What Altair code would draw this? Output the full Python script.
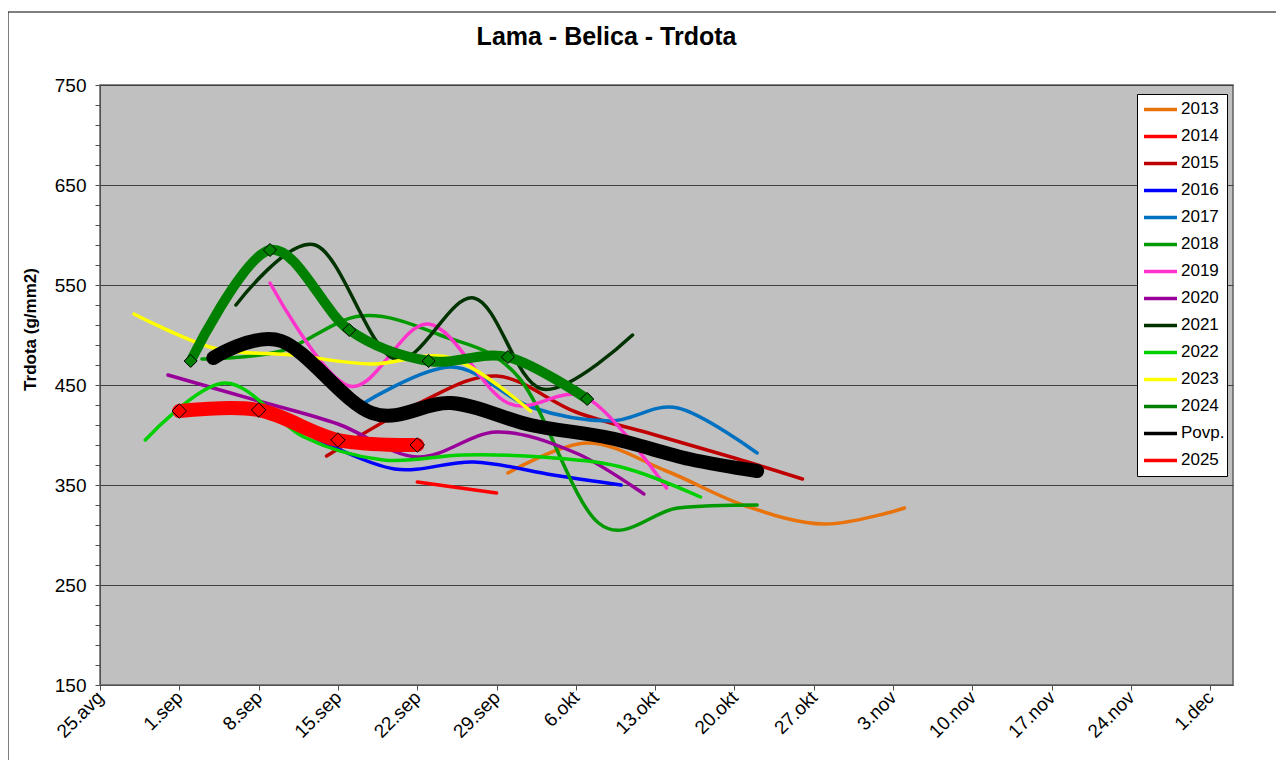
import altair as alt
import pandas as pd
from datetime import date

# ---------------- data ----------------
series_names = ["2013", "2014", "2015", "2016", "2017", "2018", "2019", "2020",
                "2021", "2022", "2023", "2024", "Povp.", "2025"]
series_colors = ["#E8730C", "#FF0000", "#C00000", "#0000FF", "#0070C0", "#009A00",
                 "#FF33CC", "#990099", "#003300", "#00D000", "#FFFF00", "#008000",
                 "#000000", "#FF0000"]
legend_widths = [3.5, 3.5, 3.5, 3.5, 3.5, 3.5, 3.5, 3.5, 3.5, 3.5, 3.5, 5.5, 6.5, 5.5]

d2013 = ["09-30", "10-07", "10-14", "10-21", "10-28", "11-04"]
v2013 = [362, 392, 364, 329, 311, 327]
d2014 = ["09-22", "09-29"]
v2014 = [353, 342]
d2015 = ["09-14", "09-22", "09-29", "10-06", "10-13", "10-20", "10-26"]
v2015 = [379, 431, 459, 423, 400, 377, 356]
d2016 = ["09-13", "09-20", "09-27", "10-04", "10-10"]
v2016 = [397, 366, 373, 360, 350]
d2017 = ["09-17", "09-25", "10-02", "10-09", "10-15", "10-22"]
v2017 = [430, 468, 428, 414, 427, 382]
d2018 = ["09-03", "09-10", "09-17", "09-24", "10-01", "10-08", "10-15", "10-22"]
v2018 = [476, 484, 519, 500, 457, 312, 327, 330]
d2019 = ["09-09", "09-16", "09-23", "09-30", "10-07", "10-14"]
v2019 = [552, 449, 511, 432, 437, 347]
d2020 = ["08-31", "09-08", "09-15", "09-22", "09-29", "10-06", "10-12"]
v2020 = [460, 434, 411, 378, 403, 382, 341]
d2021 = ["09-06", "09-13", "09-20", "09-27", "10-03", "10-11"]
v2021 = [530, 590, 476, 537, 446, 500]
d2022 = ["08-29", "09-05", "09-12", "09-19", "09-26", "10-03", "10-10", "10-17"]
v2022 = [395, 452, 398, 375, 380, 378, 368, 338]
d2023 = ["08-28", "09-04", "09-11", "09-18", "09-25", "10-02"]
v2023 = [521, 487, 480, 471, 477, 424]
d2024 = ["09-02", "09-09", "09-16", "09-23", "09-30", "10-07"]
v2024 = [474, 585, 505, 474, 478, 436]
d_avg = ["09-04", "09-10", "09-18", "09-25", "10-02", "10-09", "10-16", "10-22"]
v_avg = [477, 494, 422, 432, 410, 397, 376, 364]
d2025 = ["09-01", "09-08", "09-15", "09-22"]
v2025 = [424, 425, 395, 390]

x_tick_days = [0, 7, 14, 21, 28, 35, 42, 49, 56, 63, 70, 77, 84, 91, 98]
x_tick_labels = ["25.avg", "1.sep", "8.sep", "15.sep", "22.sep", "29.sep", "6.okt",
                 "13.okt", "20.okt", "27.okt", "3.nov", "10.nov", "17.nov",
                 "24.nov", "1.dec"]
y_major = [150, 250, 350, 450, 550, 650, 750]
y_minor = list(range(150, 751, 20))

# ---------------- build table ----------------
all_series = [
    ("2013", d2013, v2013), ("2014", d2014, v2014), ("2015", d2015, v2015),
    ("2016", d2016, v2016), ("2017", d2017, v2017), ("2018", d2018, v2018),
    ("2019", d2019, v2019), ("2020", d2020, v2020), ("2021", d2021, v2021),
    ("2022", d2022, v2022), ("2023", d2023, v2023), ("2024", d2024, v2024),
    ("Povp.", d_avg, v_avg), ("2025", d2025, v2025),
]
start = date(2025, 8, 25)
rows = []
for name, ds, vs in all_series:
    for i, (d, v) in enumerate(zip(ds, vs)):
        m, dd = d.split("-")
        rows.append({"series": name, "day": (date(2025, int(m), int(dd)) - start).days,
                     "value": v, "idx": i})
df = pd.DataFrame(rows)

FONT = "Liberation Sans"
label_arr = "[" + ",".join("'%s'" % s for s in x_tick_labels) + "]"
major_arr = "[" + ",".join(str(v) for v in y_major) + "]"

x_enc = alt.X("day:Q", scale=alt.Scale(domain=[0, 100], nice=False, zero=False),
              axis=alt.Axis(values=x_tick_days, labelExpr=label_arr + "[round(datum.value/7)]",
                            labelAngle=-45, labelAlign="right", labelBaseline="middle",
                            labelFontSize=19, labelFont=FONT, labelColor="#000000",
                            labelPadding=4, tickSize=5, tickColor="#505050",
                            domainColor="#505050", grid=False, title=None))
y_enc = alt.Y("value:Q", scale=alt.Scale(domain=[150, 750], nice=False, zero=False),
              axis=alt.Axis(values=y_minor,
                            labelExpr="indexof(" + major_arr + ", datum.value) >= 0 ? datum.label : ''",
                            labelFontSize=19, labelFont=FONT, labelColor="#000000",
                            labelPadding=9, tickSize=5, tickColor="#505050",
                            domainColor="#505050", grid=True, gridColor="#404040",
                            gridOpacity={"condition": {"test": "datum.value % 100 === 50", "value": 1}, "value": 0},
                            title="Trdota (g/mm2)", titleFont=FONT, titleFontSize=17,
                            titleFontWeight="bold", titleColor="#000000",
                            titleX=-70, titleY=244, titleAngle=-90, titleAlign="center",
                            titleBaseline="middle"))
legend_def = alt.Legend(title=None, orient="none", legendX=1037, legendY=9,
                        symbolType="stroke", symbolSize=1089,
                        labelFontSize=17, labelFont=FONT, labelColor="#000000",
                        labelOffset=2, clipHeight=26.8, rowPadding=0,
                        padding=2, symbolOffset=3,
                        fillColor="#FFFFFF", strokeColor="#000000")
color_enc = alt.Color("series:N", sort=series_names,
                      scale=alt.Scale(domain=series_names, range=series_colors),
                      legend=legend_def)
width_enc = alt.StrokeWidth("series:N", sort=series_names,
                            scale=alt.Scale(domain=series_names, range=legend_widths),
                            legend=legend_def)

base = alt.Chart(df)
thin_years = series_names[:11]

thin = base.transform_filter(alt.FieldOneOfPredicate(field="series", oneOf=thin_years)).mark_line(
    interpolate="cardinal", strokeCap="round").encode(
    x=x_enc, y=y_enc, color=color_enc, strokeWidth=width_enc, order="idx:Q")
l2024 = base.transform_filter(alt.FieldEqualPredicate(field="series", equal="2024")).mark_line(
    strokeWidth=10, interpolate="cardinal", strokeCap="round").encode(
    x=x_enc, y=y_enc, color=color_enc, order="idx:Q")
lavg = base.transform_filter(alt.FieldEqualPredicate(field="series", equal="Povp.")).mark_line(
    strokeWidth=14, interpolate="cardinal", strokeCap="round").encode(
    x=x_enc, y=y_enc, color=color_enc, order="idx:Q")
l2025 = base.transform_filter(alt.FieldEqualPredicate(field="series", equal="2025")).mark_line(
    strokeWidth=14, interpolate="cardinal", strokeCap="round").encode(
    x=x_enc, y=y_enc, color=color_enc, order="idx:Q")
p2024 = base.transform_filter(alt.FieldEqualPredicate(field="series", equal="2024")).mark_point(
    shape="diamond", filled=True, fill="#008000", stroke="#000000", strokeWidth=1,
    size=170, opacity=1).encode(x=x_enc, y=y_enc)
p2025 = base.transform_filter(alt.FieldEqualPredicate(field="series", equal="2025")).mark_point(
    shape="diamond", filled=True, fill="#FF0000", stroke="#000000", strokeWidth=1,
    size=210, opacity=1).encode(x=x_enc, y=y_enc)

frame = alt.Chart(pd.DataFrame({"f": [0]})).mark_rect(
    fillOpacity=0, stroke="#000000", strokeWidth=1).encode(
    x=alt.value(-92), x2=alt.value(1250), y=alt.value(-73), y2=alt.value(720))

chart = alt.layer(frame, thin, l2024, lavg, l2025, p2024, p2025).properties(
    width=1133, height=600,
    autosize=alt.AutoSizeParams(type="none"),
    padding={"left": 92, "top": 77, "right": 43, "bottom": 75},
    title=alt.TitleParams("Lama - Belica - Trdota", font=FONT, fontSize=25,
                          fontWeight="bold", color="#000000", anchor="middle",
                          frame="group", dx=-60, dy=38, offset=0),
).configure_view(fill="#C0C0C0", stroke="#606060", strokeWidth=1.5)

chart.save("out.html", embed_options={"renderer": "svg", "actions": False})
